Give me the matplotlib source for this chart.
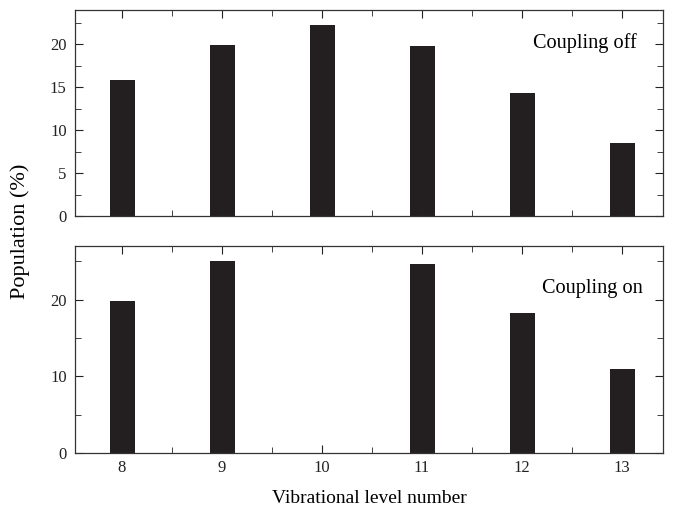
import numpy as np
import matplotlib.pyplot as plt
from matplotlib.ticker import MultipleLocator

levels = [8, 9, 10, 11, 12, 13]
pop_off = [15.8, 19.95, 22.25, 19.8, 14.3, 8.45]
pop_on = [19.8, 25.0, 0.0, 24.6, 18.3, 10.95]

plt.rcParams['font.family'] = ['Liberation Serif', 'DejaVu Serif']
plt.rcParams['axes.linewidth'] = 0.9

fig = plt.figure(figsize=(6.74, 5.09), dpi=100)
ax1 = fig.add_axes([75/674, 1-216/509, 588/674, 206/509])
ax2 = fig.add_axes([75/674, 1-453/509, 588/674, 207/509], sharex=ax1)

barcol = '#231f20'
ax1.bar(levels, pop_off, width=0.25, color=barcol)
ax2.bar(levels, pop_on, width=0.25, color=barcol)

ax1.set_ylim(0, 24)
ax2.set_ylim(0, 27)
ax1.set_xlim(7.53, 13.41)
ax1.yaxis.set_major_locator(MultipleLocator(5))
ax1.yaxis.set_minor_locator(MultipleLocator(2.5))
ax2.yaxis.set_major_locator(MultipleLocator(10))
ax2.yaxis.set_minor_locator(MultipleLocator(5))
ax2.xaxis.set_major_locator(MultipleLocator(1))
ax2.xaxis.set_minor_locator(MultipleLocator(0.5))

for ax in (ax1, ax2):
    ax.tick_params(which='both', direction='in', top=True, right=True,
                   labelsize=12, colors='#222222', pad=6)
    ax.tick_params(which='major', length=6)
    ax.tick_params(which='minor', length=4.5)
    for s in ax.spines.values():
        s.set_color('#333333')
ax1.tick_params(labelbottom=False)
ax2.tick_params(axis='x', pad=5)

ax1.text(0.956, 0.84, 'Coupling off', transform=ax1.transAxes,
         ha='right', va='center', fontsize=14.6)
ax2.text(0.965, 0.795, 'Coupling on', transform=ax2.transAxes,
         ha='right', va='center', fontsize=14.6)

ax2.set_xlabel('Vibrational level number', fontsize=14, labelpad=10)
fig.text(20/674, 1-231/509, 'Population (%)', rotation=90,
         ha='center', va='center', fontsize=16)

fig.savefig('out.png', dpi=100)
